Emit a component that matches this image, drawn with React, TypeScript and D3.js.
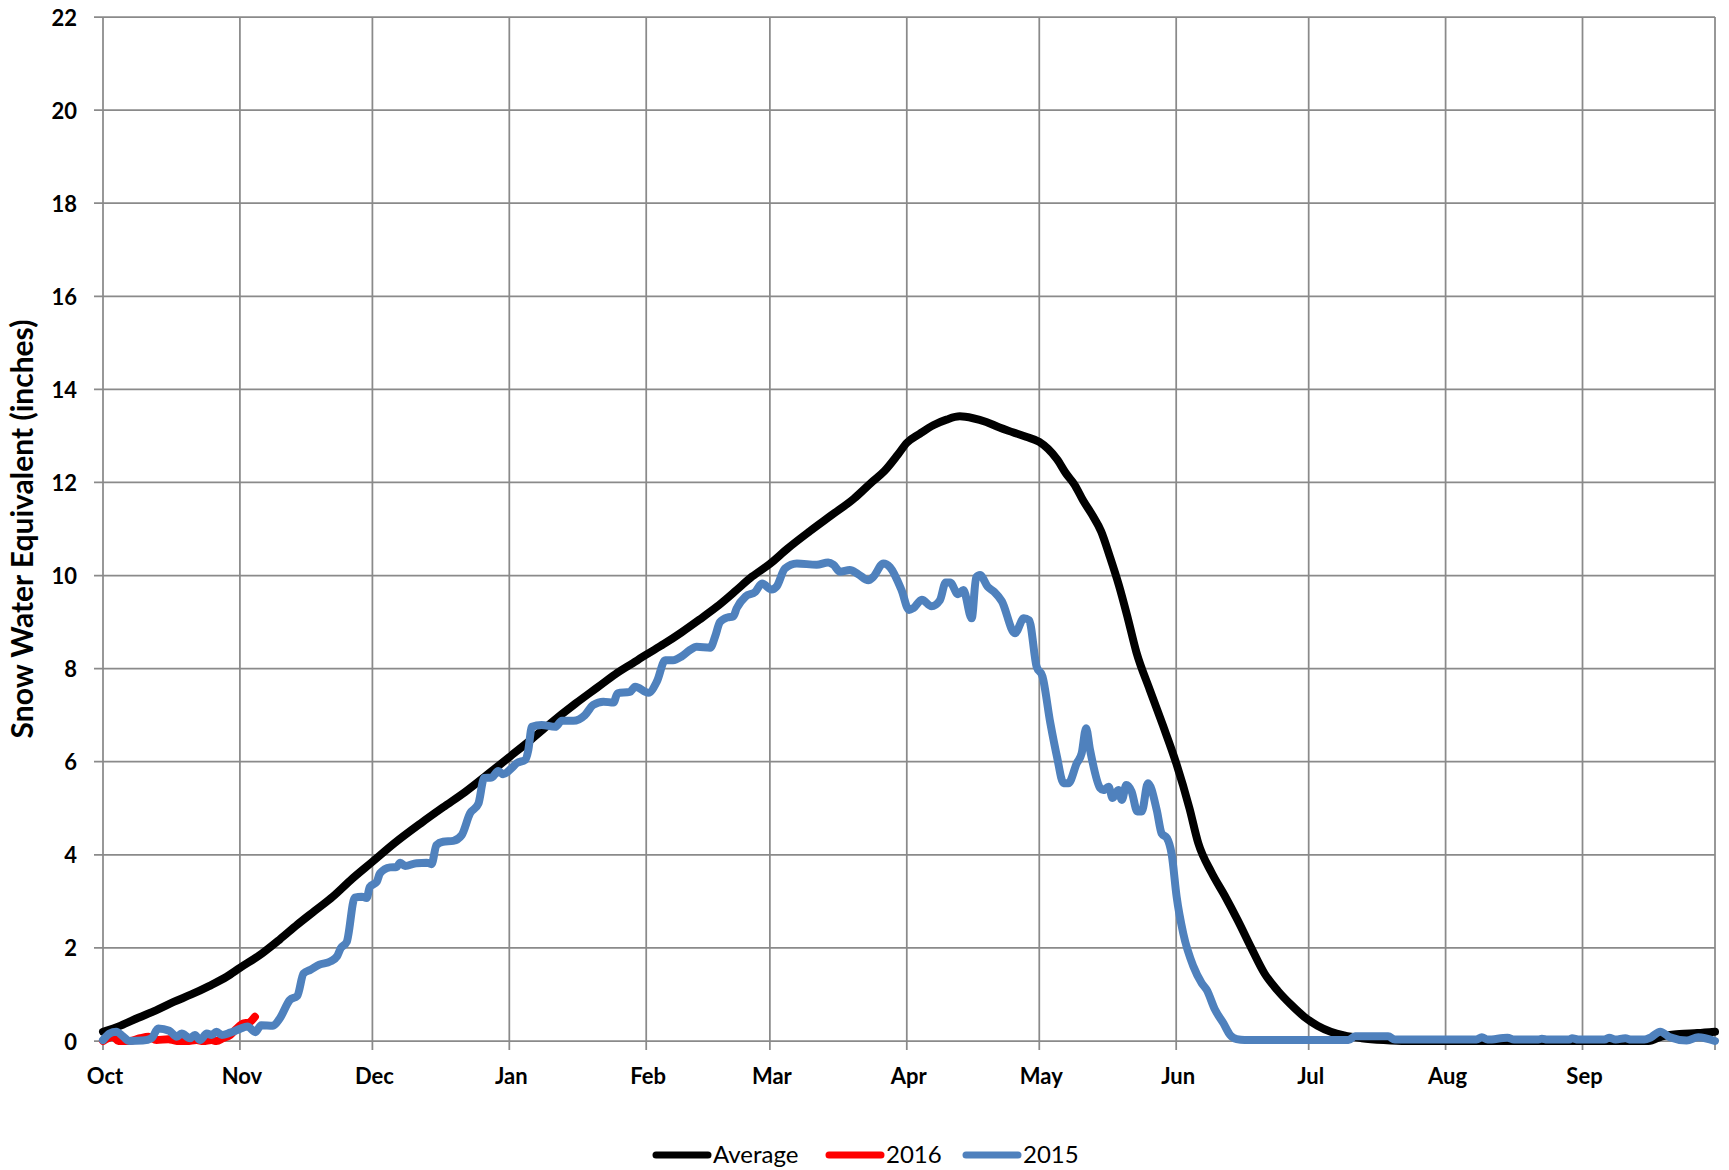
import React from 'react';
import * as d3 from 'd3';

// Water year starting 1 Oct 2014; x values are days since 1 Oct.
const seriesNames = ['Average', '2016', '2015'];
const seriesColors = ['#000000', '#ff0000', '#4f81bd'];

const avgDay = [0, 4, 8, 12, 16, 20, 24, 28, 31, 36, 40, 44, 48, 52, 56, 61, 66, 72, 77, 82, 87, 92, 97, 101, 107, 112, 116, 120, 123, 127, 131, 135, 139, 143, 147, 151, 155, 160, 165, 170, 174, 177, 180, 182, 185, 188, 191, 194, 197, 200, 203, 206, 209, 212, 214, 216, 218, 220, 222, 224, 226, 228, 230, 232, 234, 237, 240, 243, 246, 248, 251, 254, 257, 260, 263, 266, 269, 272, 275, 278, 281, 285, 290, 295, 350, 353, 357, 361, 365];
const avgSwe = [0.2, 0.33, 0.5, 0.66, 0.84, 1.0, 1.18, 1.38, 1.57, 1.88, 2.18, 2.5, 2.8, 3.1, 3.45, 3.85, 4.25, 4.68, 5.02, 5.35, 5.72, 6.1, 6.48, 6.8, 7.25, 7.6, 7.88, 8.12, 8.3, 8.53, 8.78, 9.05, 9.33, 9.65, 9.98, 10.25, 10.58, 10.95, 11.3, 11.65, 12.0, 12.25, 12.6, 12.85, 13.05, 13.23, 13.35, 13.42, 13.38, 13.3, 13.18, 13.08, 12.98, 12.87, 12.72, 12.5, 12.2, 11.95, 11.6, 11.3, 10.95, 10.4, 9.8, 9.1, 8.35, 7.55, 6.78, 5.97, 5.0, 4.25, 3.62, 3.12, 2.58, 2.0, 1.45, 1.08, 0.78, 0.52, 0.33, 0.2, 0.12, 0.06, 0.02, 0.0, 0.0, 0.1, 0.15, 0.17, 0.2];

const wy2016Day = [0, 2.3, 3.5, 6, 8.4, 10.3, 12.1, 14.8, 16.7, 19, 21.2, 22.7, 24.6, 25.7, 27.2, 28.8, 30.3, 31.8, 32.9, 34.4];
const wy2016Swe = [0.0, 0.09, 0.0, 0.0, 0.06, 0.09, 0.02, 0.04, 0.0, 0.0, 0.02, 0.0, 0.02, 0.0, 0.06, 0.13, 0.27, 0.38, 0.39, 0.52];

const wy2015Day = [0, 1.5, 3, 4.5, 6, 9, 11, 12.5, 15, 16.7, 17.8, 19.7, 20.8, 22, 23.5, 24.6, 25.7, 26.9, 28.8, 31, 32.7, 34.5, 35.8, 38.5, 40, 42.3, 44, 45.4, 47, 49, 51.5, 53, 53.8, 55.2, 57, 58.6, 59.7, 60.4, 62, 62.7, 65, 66.5, 67.3, 68.4, 71, 73.3, 74.4, 75.5, 77, 79.3, 81.2, 83.1, 85, 86.3, 88, 89.5, 90.6, 92.5, 93.7, 95.6, 96.3, 97.1, 99.3, 102.4, 103.9, 106.5, 109.1, 111, 113.3, 115.6, 116.5, 119.3, 120.5, 123.5, 125.4, 127.3, 129.1, 131, 132.9, 134.4, 137.5, 138.6, 139.7, 141.4, 142.7, 143.5, 145.5, 147.7, 149.2, 151.4, 152.5, 154.4, 157.1, 161.6, 164.2, 165.4, 166.9, 169.1, 171, 173.3, 174.4, 176.7, 178.2, 180.8, 182.5, 183.5, 185.4, 187.6, 189.5, 190.8, 191.8, 193.6, 194.8, 196.7, 197.7, 198.6, 200.3, 201.8, 203.5, 206.5, 208.5, 209.7, 211.4, 212.7, 214.5, 216, 217.5, 218.6, 220.5, 221.6, 222.6, 223.5, 225.8, 226.5, 227.7, 228.6, 229.9, 230.7, 231.7, 232.9, 234.2, 235.2, 236.6, 238.6, 239.7, 240.9, 242, 243.1, 244.6, 246.9, 248.8, 249.9, 251.8, 253.7, 255.2, 256.7, 258.5, 282, 283.5, 286, 291, 292.5, 311, 312.2, 313.5, 318, 319.5, 325, 325.8, 327, 332, 332.6, 334, 340, 341, 342.5, 344.7, 346, 349, 350.5, 352.6, 354.8, 358.6, 361.2, 365];
const wy2015Swe = [0.02, 0.16, 0.2, 0.1, 0.0, 0.01, 0.06, 0.27, 0.22, 0.09, 0.16, 0.06, 0.13, 0.02, 0.16, 0.13, 0.2, 0.13, 0.18, 0.26, 0.31, 0.19, 0.34, 0.33, 0.48, 0.88, 0.97, 1.45, 1.53, 1.64, 1.71, 1.82, 1.99, 2.13, 3.08, 3.1, 3.07, 3.31, 3.42, 3.6, 3.73, 3.74, 3.83, 3.76, 3.82, 3.83, 3.8, 4.21, 4.28, 4.3, 4.42, 4.89, 5.1, 5.65, 5.66, 5.8, 5.73, 5.86, 5.97, 6.04, 6.25, 6.75, 6.79, 6.75, 6.88, 6.88, 7.0, 7.22, 7.29, 7.27, 7.47, 7.5, 7.61, 7.48, 7.72, 8.18, 8.18, 8.26, 8.4, 8.47, 8.45, 8.69, 9.0, 9.1, 9.12, 9.3, 9.55, 9.65, 9.83, 9.7, 9.76, 10.15, 10.26, 10.23, 10.28, 10.23, 10.08, 10.12, 10.03, 9.9, 9.97, 10.26, 10.18, 9.69, 9.26, 9.3, 9.48, 9.34, 9.47, 9.85, 9.85, 9.6, 9.69, 9.08, 9.96, 10.01, 9.76, 9.65, 9.45, 8.76, 9.08, 9.04, 8.04, 7.84, 6.83, 6.11, 5.54, 5.54, 5.97, 6.18, 6.72, 6.25, 5.43, 5.39, 5.46, 5.22, 5.39, 5.18, 5.5, 5.36, 4.93, 4.93, 5.54, 4.96, 4.46, 4.36, 4.0, 3.1, 2.31, 1.6, 1.24, 1.1, 0.67, 0.38, 0.13, 0.04, 0.02, 0.02, 0.1, 0.1, 0.1, 0.03, 0.03, 0.08, 0.03, 0.07, 0.03, 0.03, 0.05, 0.03, 0.03, 0.06, 0.03, 0.03, 0.07, 0.03, 0.06, 0.03, 0.03, 0.08, 0.2, 0.08, 0.01, 0.08, 0.0];

const yTitle = 'Snow Water Equivalent (inches)';

const W = 1729;
const H = 1170;
const FONT = "Lato, 'Open Sans', 'DejaVu Sans', sans-serif";

export default function App() {
  const start = Date.UTC(2014, 9, 1);
  const toDate = (d: number) => new Date(start + d * 864e5);
  const left = 103, right = 1715, top = 17, bottom = 1041;

  const x = d3.scaleUtc().domain([toDate(0), toDate(365)]).range([left, right]);
  const y = d3.scaleLinear().domain([0, 22]).range([bottom, top]);
  const monthTicks = d3.utcMonth.range(toDate(0), toDate(366));
  const fmt = d3.utcFormat('%b');
  const yTicks = y.ticks(11);

  const mk = (days: number[], vals: number[]) =>
    days.map((d, i) => [d, vals[i]] as [number, number]);
  const line = d3
    .line<[number, number]>()
    .x((d) => x(toDate(d[0])))
    .y((d) => y(d[1]))
    .curve(d3.curveMonotoneX);

  const series = [
    mk(avgDay, avgSwe),
    mk(wy2016Day, wy2016Swe),
    mk(wy2015Day, wy2015Swe),
  ];

  const gridColor = '#8a8a8a';
  const legendX = [653, 826, 963];
  const legendY = 1155;

  return (
    <svg width={W} height={H} style={{ position: 'absolute', left: 0, top: 0, background: '#fff' }}>
      <rect x={0} y={0} width={W} height={H} fill="#fff" />
      {yTicks.map((t) => (
        <g key={'y' + t}>
          <line x1={left - 9} x2={right} y1={y(t)} y2={y(t)} stroke={gridColor} strokeWidth={1.75} />
          <text
            x={77}
            y={y(t)}
            textAnchor="end"
            dominantBaseline="central"
            fontFamily={FONT}
            fontWeight="bold"
            fontSize={22}
            fill="#000"
          >
            {t}
          </text>
        </g>
      ))}
      {monthTicks.map((m, i) => (
        <g key={'m' + i}>
          <line x1={x(m)} x2={x(m)} y1={top} y2={bottom + 9} stroke={gridColor} strokeWidth={1.75} />
          {i < monthTicks.length - 1 && (
            <text
              x={x(m) + 2}
              y={1084}
              textAnchor="middle"
              fontFamily={FONT}
              fontWeight="bold"
              fontSize={22}
              fill="#000"
            >
              {fmt(m)}
            </text>
          )}
        </g>
      ))}
      {series.map((s, i) => (
        <path
          key={'s' + i}
          d={line(s) || ''}
          fill="none"
          stroke={seriesColors[i]}
          strokeWidth={8}
          strokeLinejoin="round"
          strokeLinecap="round"
        />
      ))}
      <text
        transform={`translate(33,${(top + bottom) / 2}) rotate(-90)`}
        textAnchor="middle"
        fontFamily={FONT}
        fontWeight="bold"
        fontSize={30}
        fill="#000"
      >
        {yTitle}
      </text>
      {seriesNames.map((n, i) => (
        <g key={'l' + i}>
          <line
            x1={legendX[i] + 3}
            x2={legendX[i] + 55}
            y1={legendY}
            y2={legendY}
            stroke={seriesColors[i]}
            strokeWidth={7}
            strokeLinecap="round"
          />
          <text x={legendX[i] + 60} y={legendY + 8} fontFamily={FONT} fontSize={24} fill="#000">
            {n}
          </text>
        </g>
      ))}
    </svg>
  );
}
